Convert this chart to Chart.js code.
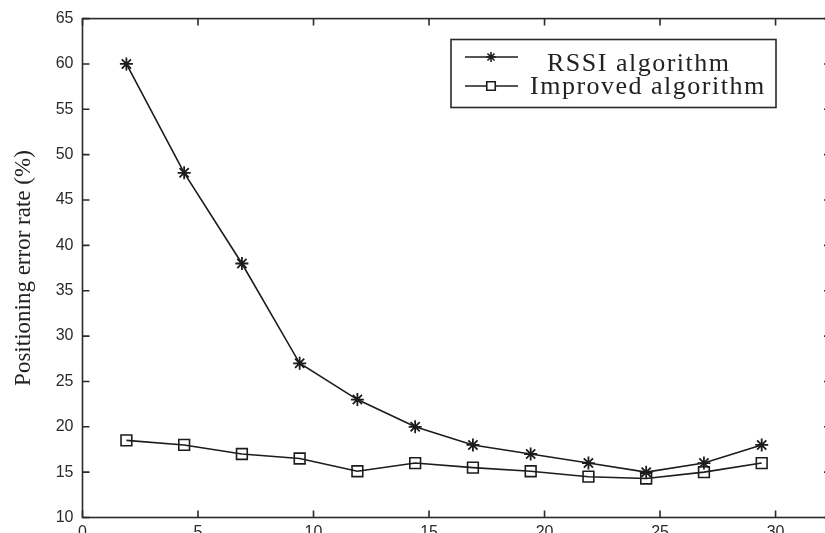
<!DOCTYPE html>
<html>
<head>
<meta charset="utf-8">
<title>Positioning error rate</title>
<script src="https://cdn.jsdelivr.net/npm/chart.js@4.4.1/dist/chart.umd.min.js"></script>
<style>
  html, body { margin: 0; padding: 0; background: #fff; overflow: hidden; }
  #wrap { width: 825px; height: 533px; overflow: hidden; position: relative; }
  canvas { display: block; }
</style>
</head>
<body>
<div id="wrap"><canvas id="c" width="845" height="550" style="width:845px;height:550px"></canvas></div>
<script>
// Number of anchor nodes (x) and positioning error rate in % for each method
const anchorCounts = [1.9, 4.4, 6.9, 9.4, 11.9, 14.4, 16.9, 19.4, 21.9, 24.4, 26.9, 29.4];
const rssiRate     = [60, 48, 38, 27, 23, 20, 18, 17, 16, 15, 16, 18];
const improvedRate = [18.5, 18, 17, 16.5, 15.1, 16, 15.5, 15.1, 14.5, 14.3, 15, 16];
const xTickValues  = [0, 5, 10, 15, 20, 25, 30];
const yTickValues  = [10, 15, 20, 25, 30, 35, 40, 45, 50, 55, 60, 65];
const seriesNames  = ['RSSI algorithm', 'Improved algorithm'];

const INK = '#1c1c1c';
const toPoints = ys => ys.map((y, i) => ({ x: anchorCounts[i], y }));

// Axes box with inward tick marks on all four sides
const frame = {
  id: 'frame',
  afterDraw(chart) {
    const { ctx, chartArea: a, scales: { x, y } } = chart;
    ctx.save();
    ctx.strokeStyle = '#2a2a2a';
    ctx.lineWidth = 1.6;
    ctx.strokeRect(a.left, a.top, a.right - a.left, a.bottom - a.top);
    ctx.beginPath();
    const L = 7;
    x.ticks.forEach(t => {
      const px = x.getPixelForValue(t.value);
      ctx.moveTo(px, a.bottom); ctx.lineTo(px, a.bottom - L);
      ctx.moveTo(px, a.top);    ctx.lineTo(px, a.top + L);
    });
    y.ticks.forEach(t => {
      const py = y.getPixelForValue(t.value);
      ctx.moveTo(a.left, py);  ctx.lineTo(a.left + L, py);
      ctx.moveTo(a.right, py); ctx.lineTo(a.right - L, py);
    });
    ctx.stroke();
    ctx.restore();
  }
};

// Boxed legend in the upper right of the plot
const boxLegend = {
  id: 'boxLegend',
  afterDraw(chart) {
    const { ctx } = chart;
    const box = { x: 451, y: 39.5, w: 325, h: 68 };
    const rows = [
      { lineY: 57, textX: 547, baseY: 71, radius: 5 },
      { lineY: 86, textX: 530, baseY: 94, radius: 6 }
    ];
    ctx.save();
    ctx.fillStyle = '#fff';
    ctx.fillRect(box.x, box.y, box.w, box.h);
    ctx.strokeStyle = '#2a2a2a';
    ctx.lineWidth = 1.6;
    ctx.strokeRect(box.x, box.y, box.w, box.h);
    chart.data.datasets.forEach((ds, i) => {
      const r = rows[i];
      ctx.strokeStyle = INK;
      ctx.lineWidth = 1.6;
      ctx.beginPath();
      ctx.moveTo(465, r.lineY); ctx.lineTo(518, r.lineY);
      ctx.stroke();
      ctx.fillStyle = '#fff';
      ctx.strokeStyle = INK;
      Chart.helpers.drawPoint(ctx, {
        pointStyle: ds.pointStyle,
        radius: r.radius,
        borderWidth: 1.6
      }, 491, r.lineY);
      ctx.fillStyle = '#222';
      ctx.font = '26px "Liberation Serif", "Times New Roman", serif';
      ctx.letterSpacing = '1.5px';
      ctx.textBaseline = 'alphabetic';
      ctx.fillText(ds.label, r.textX, r.baseY);
    });
    ctx.restore();
  }
};

new Chart(document.getElementById('c'), {
  type: 'line',
  data: {
    datasets: [
      {
        label: seriesNames[0],
        data: toPoints(rssiRate),
        borderColor: INK,
        borderWidth: 1.6,
        pointStyle: 'star',
        pointRadius: 6.5,
        pointBorderWidth: 1.8,
        pointBorderColor: INK,
        pointBackgroundColor: INK,
        tension: 0
      },
      {
        label: seriesNames[1],
        data: toPoints(improvedRate),
        borderColor: INK,
        borderWidth: 1.6,
        pointStyle: 'rect',
        pointRadius: 7.6,
        pointBorderWidth: 1.6,
        pointBorderColor: INK,
        pointBackgroundColor: 'rgba(255,255,255,0)',
        tension: 0
      }
    ]
  },
  options: {
    responsive: false,
    animation: false,
    devicePixelRatio: 1,
    layout: { padding: { top: 16, right: 14, left: 0, bottom: 0 } },
    plugins: { legend: { display: false }, tooltip: { enabled: false } },
    scales: {
      x: {
        type: 'linear',
        min: 0,
        max: 32.4,
        afterBuildTicks: s => { s.ticks = xTickValues.map(v => ({ value: v })); },
        afterFit: s => { s.height = 32.5; },
        grid: { display: false, drawTicks: false },
        border: { display: false },
        ticks: {
          padding: 5,
          color: '#2b2b2b',
          font: { family: '"Liberation Sans", Arial, sans-serif', size: 16 }
        }
      },
      y: {
        min: 10,
        max: 65,
        afterBuildTicks: s => { s.ticks = yTickValues.map(v => ({ value: v })); },
        afterFit: s => { s.width = 82.5; },
        grid: { display: false, drawTicks: false },
        border: { display: false },
        title: {
          display: true,
          text: 'Positioning error rate (%)',
          color: '#222',
          font: { family: '"Liberation Serif", "Times New Roman", serif', size: 23 },
          padding: { top: 10, bottom: 0 }
        },
        ticks: {
          padding: 9,
          color: '#2b2b2b',
          font: { family: '"Liberation Sans", Arial, sans-serif', size: 16 }
        }
      }
    }
  },
  plugins: [frame, boxLegend]
});
</script>
</body>
</html>
